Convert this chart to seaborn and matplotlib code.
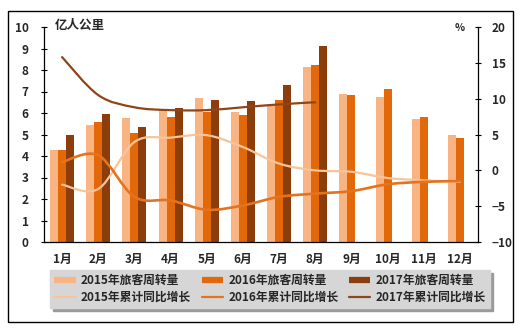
import numpy as np
import pandas as pd
import matplotlib
matplotlib.use("Agg")
import matplotlib.pyplot as plt
from matplotlib.path import Path
from matplotlib.patches import PathPatch, Rectangle
from matplotlib.lines import Line2D
import seaborn as sns

# ---- data -------------------------------------------------------------
months = ["1月", "2月", "3月", "4月", "5月", "6月",
          "7月", "8月", "9月", "10月", "11月", "12月"]

# passenger-kilometres (100 million)
pkm_2015 = [4.26, 5.46, 5.77, 6.12, 6.69, 6.05, 6.31, 8.16, 6.87, 6.74, 5.71, 4.97]
pkm_2016 = [4.30, 5.58, 5.08, 5.81, 6.05, 5.89, 6.59, 8.21, 6.82, 7.10, 5.80, 4.84]
pkm_2017 = [5.00, 5.97, 5.35, 6.23, 6.59, 6.54, 7.28, 9.13, None, None, None, None]

# cumulative year-on-year growth (%)
yoy_2015 = [-2.0, -2.6, 3.95, 4.56, 4.9, 3.25, 0.94, 0.0, -0.2, -1.07, -1.4, -1.6]
yoy_2016 = [1.16, 2.1, -3.7, -4.2, -5.5, -4.9, -3.7, -3.25, -2.9, -1.95, -1.6, -1.5]
yoy_2017 = [15.8, 10.5, 8.8, 8.4, 8.4, 8.8, 9.2, 9.5]

bar_labels = ["2015年旅客周转量", "2016年旅客周转量", "2017年旅客周转量"]
line_labels = ["2015年累计同比增长", "2016年累计同比增长", "2017年累计同比增长"]

bar_colors = ["#F9B483", "#E2680A", "#8C3D0C"]
line_colors = ["#F8C49A", "#E4731F", "#8F451A"]

# ---- styling ------------------------------------------------------------
sns.set_style("white")
plt.rcParams["font.family"] = ["Noto Sans CJK SC", "DejaVu Sans"]
plt.rcParams["font.weight"] = "bold"
FS = 8.5

W, H = 525, 331
fig = plt.figure(figsize=(W / 100, H / 100), dpi=100)
ax = fig.add_axes([44 / W, 1 - 242 / H, (478 - 44) / W, (242 - 27) / H])

# ---- bars ---------------------------------------------------------------
rows = []
for label, vals in zip(bar_labels, [pkm_2015, pkm_2016, pkm_2017]):
    for m, v in zip(months, vals):
        rows.append({"month": m, "series": label,
                     "value": np.nan if v is None else v})
df = pd.DataFrame(rows)

sns.barplot(data=df, x="month", y="value", hue="series", order=months,
            hue_order=bar_labels, palette=bar_colors, saturation=1,
            width=0.663, legend=False, ax=ax, linewidth=0)

ax.set_xlim(-0.5, 11.5)
ax.set_ylim(0, 10)
ax.set_yticks(range(0, 11))
ax.set_xlabel("")
ax.set_ylabel("")
ax.set_xticks(range(12))
ax.set_xticklabels(months)
ax.set_xticks(np.arange(-0.5, 12, 1), minor=True)
ax.tick_params(axis="x", which="major", length=0, pad=8, labelsize=FS)
ax.tick_params(axis="x", which="minor", length=3, direction="out",
               width=0.8, color="black")
ax.tick_params(axis="y", length=4, direction="inout", width=0.8,
               color="black", pad=9, labelsize=FS, left=True)
for s in ["left", "bottom"]:
    ax.spines[s].set_color("black")
    ax.spines[s].set_linewidth(0.9)
for s in ["top", "right"]:
    ax.spines[s].set_visible(False)

# ---- smoothed growth lines on secondary axis ---------------------------
ax2 = ax.twinx()
ax2.set_ylim(-10, 20)
ax2.set_yticks(range(-10, 21, 5))
ax2.set_xlim(-0.5, 11.5)
ax2.tick_params(axis="y", length=4, direction="inout", width=0.8,
                color="black", pad=8, labelsize=FS, right=True)
for s in ["top", "left", "bottom"]:
    ax2.spines[s].set_visible(False)
ax2.spines["right"].set_color("black")
ax2.spines["right"].set_linewidth(0.9)


def smooth_path(ys):
    pts = np.column_stack([np.arange(len(ys), dtype=float),
                           np.asarray(ys, dtype=float)])
    n = len(pts)
    verts = [pts[0]]
    codes = [Path.MOVETO]
    for i in range(n - 1):
        p0 = pts[i - 1] if i > 0 else pts[i]
        p1, p2 = pts[i], pts[i + 1]
        p3 = pts[i + 2] if i + 2 < n else pts[i + 1]
        verts += [p1 + (p2 - p0) / 6, p2 - (p3 - p1) / 6, p2]
        codes += [Path.CURVE4] * 3
    return Path(verts, codes)


for vals, c, lw in zip([yoy_2015, yoy_2016, yoy_2017], line_colors,
                       [1.6, 1.9, 1.6]):
    ax2.add_patch(PathPatch(smooth_path(vals), facecolor="none",
                            edgecolor=c, lw=lw, capstyle="round"))

# ---- axis units ---------------------------------------------------------
fig.text(55 / W, 1 - 25 / H, "亿人公里", fontsize=FS + 0.5,
         fontweight="bold", va="center", ha="left")
fig.text(460 / W, 1 - 28 / H, "%", fontsize=FS - 1,
         fontweight="bold", va="center", ha="center")

# ---- legend -------------------------------------------------------------
handles, labels = [], []
for i in range(3):
    handles.append(Line2D([], [], color=bar_colors[i], lw=4.5,
                          solid_capstyle="butt"))
    labels.append(bar_labels[i])
    handles.append(Line2D([], [], color=line_colors[i], lw=1.6))
    labels.append(line_labels[i])

leg = fig.legend(handles, labels, ncol=3, loc="center",
                 bbox_to_anchor=(270 / W, 1 - 289 / H),
                 prop={"size": FS, "weight": "bold"},
                 handlelength=1.8, handletextpad=0.45, columnspacing=0.9,
                 labelspacing=0.35, borderpad=0.35, frameon=True,
                 fancybox=False, shadow={"color": "#9A9A9A", "alpha": 1})
leg.get_frame().set_facecolor("#D6D6D6")
leg.get_frame().set_edgecolor("#D6D6D6")

# ---- outer frame --------------------------------------------------------
fig.add_artist(Rectangle((8 / W, 1 - 322 / H), (513 - 8) / W, (322 - 11) / H,
                         transform=fig.transFigure, fill=False,
                         lw=1.0, ec="black"))

fig.savefig("out.png", dpi=100)
